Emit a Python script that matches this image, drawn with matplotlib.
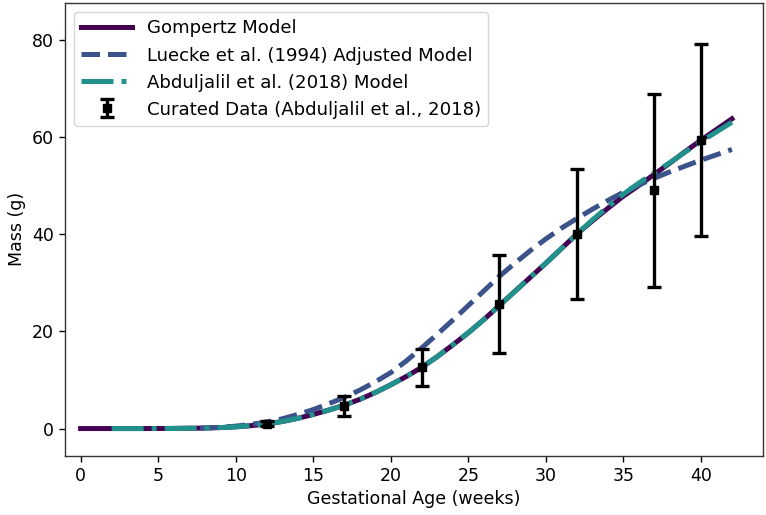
import matplotlib
matplotlib.use("Agg")
import matplotlib.pyplot as plt

# model curves (weeks -> grams)
gompertz_weeks = list(range(0, 43))
gompertz_mass = [0.0, 0.0, 0.0, 0.0, 0.0, 0.01, 0.02, 0.05, 0.1, 0.2,
                 0.35, 0.6, 0.95, 1.45, 2.1, 2.9, 3.8, 4.8, 6.0, 7.4,
                 9.0, 10.7, 12.6, 14.8, 17.2, 19.7, 22.4, 25.3, 28.2, 31.1,
                 34.0, 37.0, 40.0, 42.7, 45.3, 47.8, 50.0, 52.3, 54.6, 57.0,
                 59.3, 61.5, 63.7]

luecke_weeks = list(range(6, 43))
luecke_mass = [0.02, 0.05, 0.12, 0.25, 0.5, 0.85, 1.35, 2.0, 2.9, 3.9,
               5.1, 6.4, 7.9, 9.6, 11.5, 13.9, 16.6, 19.4, 22.3, 25.3,
               28.3, 31.3, 34.0, 36.6, 39.0, 41.2, 43.2, 45.1, 46.9, 48.6,
               50.1, 51.5, 52.8, 54.0, 55.2, 56.3, 57.4]

abdul_weeks = list(range(2, 43))
abdul_mass = [0.0, 0.0, 0.0, 0.01, 0.02, 0.05, 0.1, 0.2,
              0.35, 0.6, 0.95, 1.45, 2.1, 2.9, 3.8, 4.8, 6.0, 7.4,
              9.0, 10.7, 12.6, 14.8, 17.2, 19.7, 22.4, 25.3, 28.2, 31.1,
              34.0, 37.0, 40.0, 42.9, 45.6, 48.2, 50.5, 52.6, 54.7, 56.9,
              59.0, 61.0, 63.0]

# curated data points
data_weeks = [12, 17, 22, 27, 32, 37, 40]
data_mass = [1.0, 4.6, 12.6, 25.6, 40.0, 49.0, 59.3]
data_err = [0.45, 2.1, 3.8, 10.0, 13.3, 19.9, 19.7]

plt.rcParams['font.family'] = 'DejaVu Sans'
fig, ax = plt.subplots(figsize=(7.66, 5.15), dpi=100)
fig.subplots_adjust(left=0.085, right=0.996, top=0.994, bottom=0.115)

ax.plot(gompertz_weeks, gompertz_mass, color='#440154', lw=3.6,
        label='Gompertz Model')
ax.plot(luecke_weeks, luecke_mass, color='#3b528b', lw=3.6, ls='--',
        label='Luecke et al. (1994) Adjusted Model')
ax.plot(abdul_weeks, abdul_mass, color='#21918c', lw=3.6, ls='-.',
        label='Abduljalil et al. (2018) Model')
ax.errorbar(data_weeks, data_mass, yerr=data_err, fmt='s', color='black',
            ms=6, elinewidth=2.4, capsize=4.8, capthick=2.4,
            label='Curated Data (Abduljalil et al., 2018)', zorder=5)

ax.set_xlim(-1, 44)
ax.set_ylim(-5.6, 87.5)
ax.set_xticks(range(0, 41, 5))
ax.set_yticks(range(0, 81, 20))
ax.set_xlabel('Gestational Age (weeks)', fontsize=12.5)
ax.set_ylabel('Mass (g)', fontsize=12.5)
ax.tick_params(labelsize=12.5, length=4.5, width=1.0)
for s in ax.spines.values():
    s.set_linewidth(1.0)
    s.set_color('#333333')

ax.legend(loc='upper left', fontsize=13.1, handlelength=2.8,
          borderaxespad=0.5)

fig.savefig('out.png', dpi=100)
